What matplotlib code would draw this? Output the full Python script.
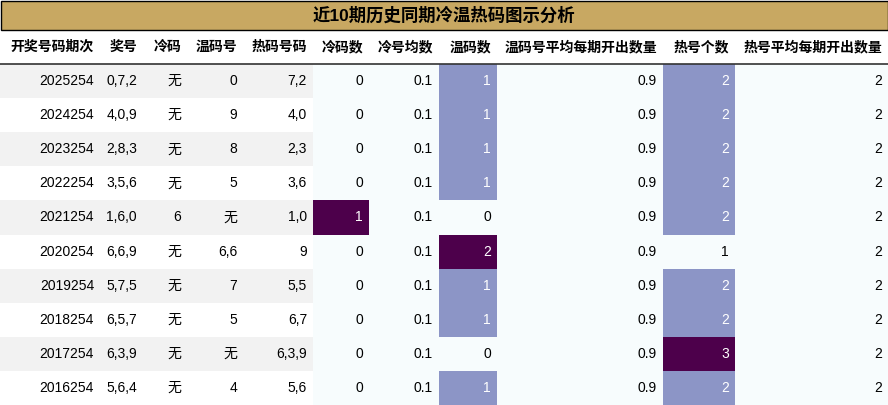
import matplotlib
matplotlib.use("Agg")
import matplotlib.pyplot as plt
from matplotlib.patches import Rectangle
import numpy as np

title = "近10期历史同期冷温热码图示分析"
headers = ["开奖号码期次", "奖号", "冷码", "温码号", "热码号码", "冷码数", "冷号均数", "温码数",
           "温码号平均每期开出数量", "热号个数", "热号平均每期开出数量"]
periods = ["2025254", "2024254", "2023254", "2022254", "2021254", "2020254", "2019254", "2018254", "2017254", "2016254"]
draws = ["0,7,2", "4,0,9", "2,8,3", "3,5,6", "1,6,0", "6,6,9", "5,7,5", "6,5,7", "6,3,9", "5,6,4"]
cold = ["无", "无", "无", "无", "6", "无", "无", "无", "无", "无"]
warm = ["0", "9", "8", "5", "无", "6,6", "7", "5", "无", "4"]
hot = ["7,2", "4,0", "2,3", "3,6", "1,0", "9", "5,5", "6,7", "6,3,9", "5,6"]
cold_cnt = [0, 0, 0, 0, 1, 0, 0, 0, 0, 0]
cold_avg = [0.1] * 10
warm_cnt = [1, 1, 1, 1, 0, 2, 1, 1, 0, 1]
warm_avg = [0.9] * 10
hot_cnt = [2, 2, 2, 2, 2, 1, 2, 2, 3, 2]
hot_avg = [2] * 10

plt.rcParams['font.family'] = ['Liberation Sans', 'Noto Sans CJK SC']
W, H = 888, 405
fig = plt.figure(figsize=(W/100, H/100), dpi=100)
ax = fig.add_axes([0, 0, 1, 1])
ax.set_xlim(0, W); ax.set_ylim(H, 0); ax.axis('off')

edges = [0, 100, 143, 187, 243, 313, 369, 439, 497, 663, 735, 888]
title_h, head_bot = 30, 64
row_h = (H - head_bot) / 10

ax.add_patch(Rectangle((0.5, 0.5), W-1, title_h-1, facecolor='#c8a862', edgecolor='black', lw=1))
ax.text(W/2, title_h/2, title, ha='center', va='center', fontsize=12.5, fontweight='bold')
for i, h in enumerate(headers):
    ax.text(edges[i+1]-6, (title_h+head_bot)/2, h, ha='right', va='center', fontsize=10, fontweight='bold')
ax.plot([0, W], [head_bot, head_bot], color='#333333', lw=1.2)

cmap = plt.get_cmap('BuPu')
text_cols = [periods, draws, cold, warm, hot]
num_cols = [cold_cnt, cold_avg, warm_cnt, warm_avg, hot_cnt, hot_avg]
for r in range(10):
    y0 = head_bot + r*row_h
    bg = '#f2f2f2' if r % 2 == 0 else 'white'
    ax.add_patch(Rectangle((0, y0), edges[5], row_h, facecolor=bg, edgecolor='none'))
    for c, col in enumerate(text_cols):
        ax.text(edges[c+1]-6, y0+row_h/2, col[r], ha='right', va='center', fontsize=10)
    for k, col in enumerate(num_cols):
        c = k + 5
        v = np.array(col, dtype=float)
        rng = v.max() - v.min()
        t = 0 if rng == 0 else (col[r] - v.min()) / rng
        color = cmap(t)
        ax.add_patch(Rectangle((edges[c], y0), edges[c+1]-edges[c], row_h, facecolor=color, edgecolor='none'))
        tc = 'white' if t > 0.3 else 'black'
        ax.text(edges[c+1]-6, y0+row_h/2, str(col[r]), ha='right', va='center', fontsize=10, color=tc)

fig.savefig("out.png", dpi=100)
